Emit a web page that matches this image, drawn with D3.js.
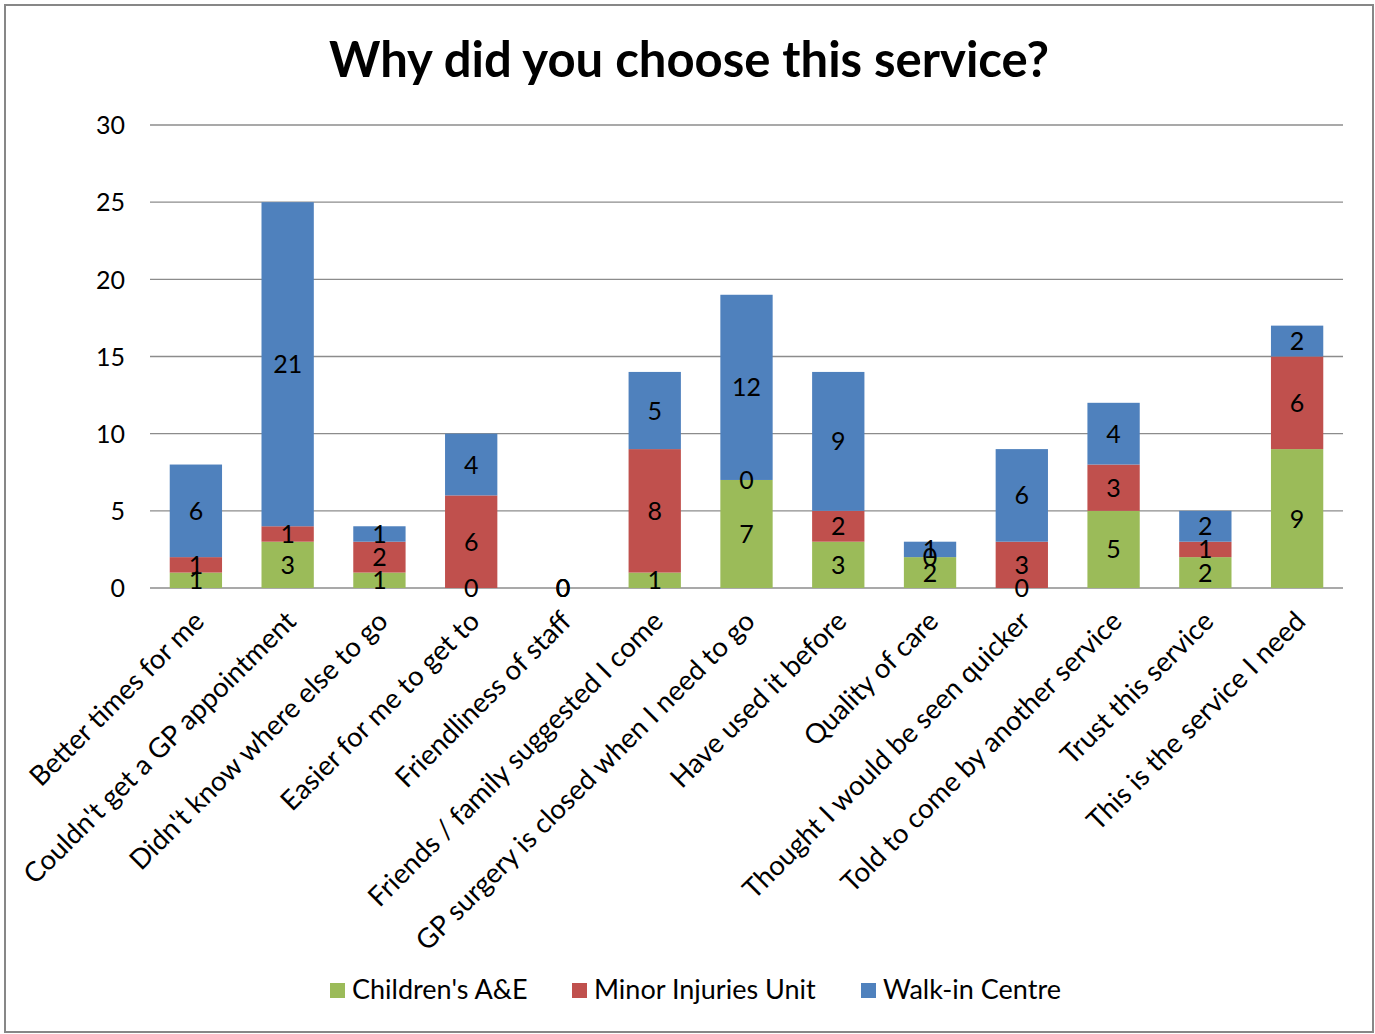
<!DOCTYPE html>
<html>
<head>
<meta charset="utf-8">
<script src="https://cdn.jsdelivr.net/npm/d3@7"></script>
<style>
  html, body { margin: 0; padding: 0; background: #fff; }
  svg { display: block; }
  text { font-family: Lato, "Open Sans", sans-serif; }
</style>
</head>
<body>
<script>
const categories = [
  "Better times for me",
  "Couldn't get a GP appointment",
  "Didn't know where else to go",
  "Easier for me to get to",
  "Friendliness of staff",
  "Friends / family suggested I come",
  "GP surgery is closed when I need to go",
  "Have used it before",
  "Quality of care",
  "Thought I would be seen quicker",
  "Told to come by another service",
  "Trust this service",
  "This is the service I need"
];
const seriesNames = ["Children's A&E", "Minor Injuries Unit", "Walk-in Centre"];
const childrensAE   = [1, 3, 1, 0, 0, 1, 7, 3, 2, 0, 5, 2, 9];
const minorInjuries = [1, 1, 2, 6, 0, 8, 0, 2, 0, 3, 3, 1, 6];
const walkInCentre  = [6, 21, 1, 4, 0, 5, 12, 9, 1, 6, 4, 2, 2];
const yTicks = [0, 5, 10, 15, 20, 25, 30];
const colors = ["#9BBB59", "#C0504D", "#4F81BD"];
const title = "Why did you choose this service?";

const W = 1375, H = 1034;
const svg = d3.select("body").append("svg").attr("width", W).attr("height", H);

// outer border
svg.append("rect").attr("x", 5).attr("y", 5).attr("width", 1368).attr("height", 1027)
  .attr("fill", "#fff").attr("stroke", "#878787").attr("stroke-width", 2);

svg.append("text").attr("x", 689).attr("y", 77).attr("text-anchor", "middle")
  .attr("font-size", 49).attr("font-weight", "bold").attr("fill", "#000").text(title);

const plot = { left: 150, right: 1343, top: 125, bottom: 588 };
const x = d3.scaleBand().domain(categories).range([plot.left, plot.right]).paddingInner(0.43).paddingOuter(0.215);
const y = d3.scaleLinear().domain([0, 30]).range([plot.bottom, plot.top]);

// gridlines
svg.append("g").selectAll("line").data(yTicks).join("line")
  .attr("x1", plot.left).attr("x2", plot.right)
  .attr("y1", d => y(d)).attr("y2", d => y(d))
  .attr("stroke", "#8c8c8c").attr("stroke-width", 1.3);

// y axis labels
const yAxis = d3.axisLeft(y).tickValues(yTicks).tickSize(0).tickPadding(0);
const yg = svg.append("g").attr("transform", `translate(${plot.left - 25},0)`).call(yAxis);
yg.select(".domain").remove();
yg.selectAll("text").attr("font-size", 25).attr("fill", "#000")
  .style("font-family", "Lato, 'Open Sans', sans-serif").attr("dy", "0.35em");

// stacked data
const table = categories.map((c, i) => ({
  cat: c,
  [seriesNames[0]]: childrensAE[i],
  [seriesNames[1]]: minorInjuries[i],
  [seriesNames[2]]: walkInCentre[i]
}));
const stacked = d3.stack().keys(seriesNames)(table);

const layers = svg.append("g").selectAll("g").data(stacked).join("g")
  .attr("fill", (d, i) => colors[i]);
layers.selectAll("rect").data(d => d).join("rect")
  .attr("x", d => x(d.data.cat))
  .attr("width", x.bandwidth())
  .attr("y", d => y(d[1]))
  .attr("height", d => y(d[0]) - y(d[1]));

// data labels
const lbl = svg.append("g");
stacked.forEach((layer) => {
  layer.forEach(d => {
    const v = d[1] - d[0];
    lbl.append("text")
      .attr("x", x(d.data.cat) + x.bandwidth() / 2)
      .attr("y", (y(d[0]) + y(d[1])) / 2)
      .attr("dy", "0.36em")
      .attr("text-anchor", "middle")
      .attr("font-size", 25)
      .attr("fill", "#000")
      .text(v);
  });
});

// category labels
const xg = svg.append("g");
categories.forEach(c => {
  const cx = x(c) + x.bandwidth() / 2 + 10;
  const cy = plot.bottom + 35;
  xg.append("text")
    .attr("transform", `translate(${cx},${cy}) rotate(-45)`)
    .attr("text-anchor", "end")
    .attr("font-size", 27.5)
    .attr("fill", "#000")
    .text(c);
});

// legend
const legend = svg.append("g");
const legX = [330, 572, 861];
seriesNames.forEach((s, i) => {
  legend.append("rect").attr("x", legX[i]).attr("y", 983).attr("width", 15).attr("height", 15)
    .attr("fill", colors[i]);
  legend.append("text").attr("x", legX[i] + 22).attr("y", 990).attr("dy", "0.35em")
    .attr("font-size", 27).attr("fill", "#000").text(s);
});
</script>
</body>
</html>
